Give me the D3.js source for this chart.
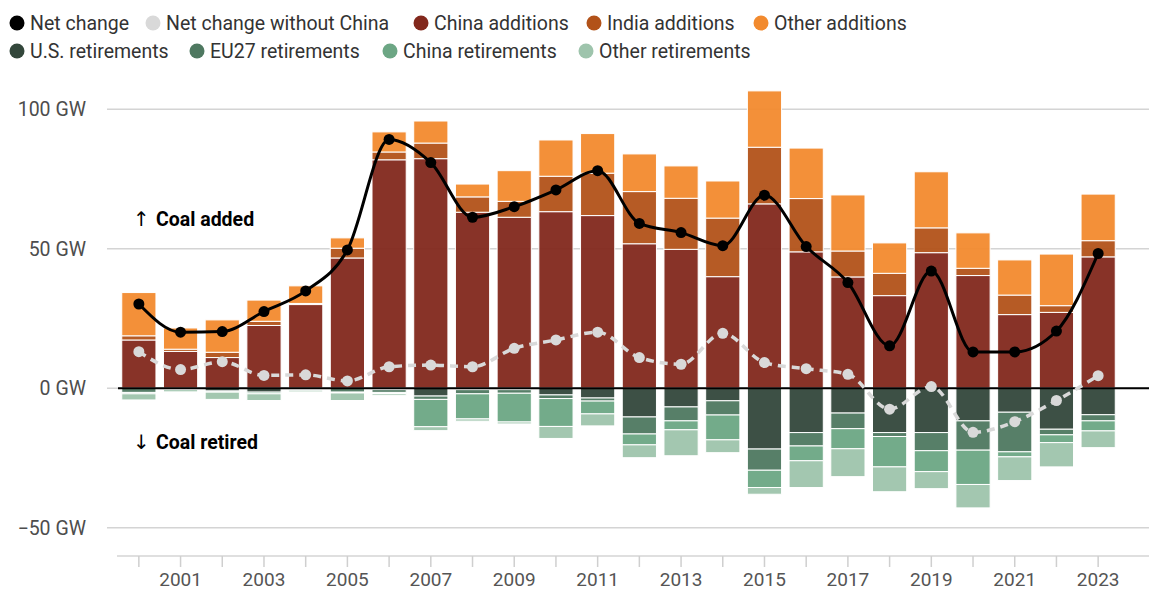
<!DOCTYPE html>
<html>
<head>
<meta charset="utf-8">
<script src="https://cdn.jsdelivr.net/npm/d3@7"></script>
<style>
	body { margin: 0; background: #fff; }
	svg { display: block; font-family: Roboto, "Noto Sans", sans-serif; }
</style>
</head>
<body>
<svg id="chart" width="1149" height="590"></svg>
<script>
var years = [2000, 2001, 2002, 2003, 2004, 2005, 2006, 2007, 2008, 2009, 2010, 2011,
	2012, 2013, 2014, 2015, 2016, 2017, 2018, 2019, 2020, 2021, 2022, 2023];

// GW added
var chinaAdd = [17.3, 13.2, 11.0, 22.5, 30.0, 46.7, 81.9, 82.3, 63.1, 61.3, 63.3, 61.9,
	51.8, 49.8, 40.0, 66.1, 48.9, 39.9, 33.2, 48.6, 40.4, 26.4, 27.2, 47.1];
var indiaAdd = [1.5, 0.8, 1.9, 1.5, 0.4, 3.5, 2.8, 5.6, 5.5, 5.7, 12.7, 15.2,
	18.7, 18.3, 21.0, 20.3, 19.1, 9.3, 8.0, 8.9, 2.6, 7.0, 2.4, 5.8];
var otherAdd = [15.5, 7.6, 11.6, 7.6, 6.3, 3.7, 7.2, 7.9, 4.6, 11.0, 13.0, 14.2,
	13.5, 11.6, 13.3, 20.2, 18.1, 20.1, 10.9, 20.1, 12.7, 12.6, 18.5, 16.7];

// GW retired
var usRet = [0, 0, 1.0, 1.4, 0.2, 0, 0.5, 2.8, 0.5, 0.5, 2.4, 3.5,
	10.3, 6.7, 4.5, 21.8, 15.9, 8.9, 15.9, 15.9, 11.7, 8.6, 14.7, 9.5];
var euRet = [1.5, 0.5, 0, 0, 0.2, 1.4, 1.0, 1.2, 1.5, 1.3, 1.3, 1.1,
	6.1, 5.0, 5.1, 7.6, 4.8, 5.6, 1.4, 6.5, 10.5, 14.2, 2.0, 2.2];
var chinaRet = [0.5, 0, 0.4, 0.6, 0.3, 0.3, 0.4, 9.8, 9.0, 10.3, 10.0, 4.6,
	3.9, 3.2, 8.9, 6.2, 5.3, 7.2, 10.9, 7.5, 12.3, 1.8, 2.8, 3.6];
var otherRet = [2.2, 0.8, 2.6, 2.4, 0.6, 2.7, 0.6, 1.4, 0.8, 0.7, 4.3, 4.3,
	4.6, 9.3, 4.6, 2.4, 9.6, 10.0, 8.9, 6.1, 8.4, 8.5, 8.7, 6.0];

var netChange = [30.2, 20.1, 20.3, 27.5, 34.9, 49.6, 89.2, 80.9, 61.3, 65.1, 71.1, 78.0,
	59.1, 55.8, 51.1, 69.2, 50.8, 37.9, 15.2, 42.0, 13.0, 13.0, 20.5, 48.3];
var netNoChina = [13.1, 6.7, 9.5, 4.6, 4.8, 2.6, 7.7, 8.3, 7.7, 14.3, 17.3, 20.1,
	11.0, 8.6, 19.7, 9.2, 7.0, 5.0, -7.5, 0.6, -15.8, -12.0, -4.4, 4.5];

var yTicks = [-50, 0, 50, 100];
var xLabels = [2001, 2003, 2005, 2007, 2009, 2011, 2013, 2015, 2017, 2019, 2021, 2023];

var series = [
	{ key: 'chinaAdd', name: 'China additions', color: '#82281c', values: chinaAdd, sign: 1 },
	{ key: 'indiaAdd', name: 'India additions', color: '#b25219', values: indiaAdd, sign: 1 },
	{ key: 'otherAdd', name: 'Other additions', color: '#f28a2e', values: otherAdd, sign: 1 },
	{ key: 'usRet', name: 'U.S. retirements', color: '#33473b', values: usRet, sign: -1 },
	{ key: 'euRet', name: 'EU27 retirements', color: '#4e7860', values: euRet, sign: -1 },
	{ key: 'chinaRet', name: 'China retirements', color: '#6ca684', values: chinaRet, sign: -1 },
	{ key: 'otherRet', name: 'Other retirements', color: '#9ec4ac', values: otherRet, sign: -1 }
];

var svg = d3.select('#chart');
var W = 1149;

var x = d3.scaleBand()
	.domain(years)
	.range([118, 1119])
	.paddingInner(0.18)
	.paddingOuter(0.09);

var y = d3.scaleLinear()
	.domain([-50, 100])
	.range([527.7, 109.3]);

// gridlines + y labels
svg.append('g').selectAll('line')
	.data(yTicks)
	.enter()
	.append('line')
	.attr('x1', 107)
	.attr('x2', W)
	.attr('y1', function (d) { return y(d); })
	.attr('y2', function (d) { return y(d); })
	.attr('stroke', '#d4d4d4')
	.attr('stroke-width', 1.5);

svg.append('g').selectAll('text')
	.data(yTicks)
	.enter()
	.append('text')
	.attr('x', 86)
	.attr('y', function (d) { return y(d); })
	.attr('dy', '0.35em')
	.attr('text-anchor', 'end')
	.attr('fill', '#4d4d4d')
	.style('font-size', '19.5px')
	.text(function (d) { return (d < 0 ? '\u2212' + Math.abs(d) : d) + ' GW'; });

// x axis
var xAxis = d3.axisBottom(x)
	.tickSize(11)
	.tickPadding(6)
	.tickFormat(function (d) { return xLabels.indexOf(d) >= 0 ? d : ''; });

var gx = svg.append('g')
	.attr('transform', 'translate(0,556)')
	.call(xAxis);
gx.select('.domain').remove();
gx.insert('line', ':first-child')
	.attr('x1', 117)
	.attr('x2', W)
	.attr('stroke', '#d4d4d4')
	.attr('stroke-width', 1.5);
gx.selectAll('.tick line').attr('stroke', '#cfcfcf').attr('stroke-width', 1.5);
gx.selectAll('.tick text')
	.attr('fill', '#555')
	.style('font-size', '19px')
	.style('font-family', 'Roboto, sans-serif');

// stacked bars
var table = years.map(function (yr, i) {
	var row = { year: yr };
	series.forEach(function (s) { row[s.key] = s.sign * s.values[i]; });
	return row;
});

var stacked = d3.stack()
	.keys(series.map(function (s) { return s.key; }))
	.offset(d3.stackOffsetDiverging)(table);

svg.append('g').selectAll('g')
	.data(stacked)
	.enter()
	.append('g')
	.attr('fill', function (d, i) { return series[i].color; })
	.selectAll('rect')
	.data(function (d) { return d; })
	.enter()
	.append('rect')
	.attr('x', function (d) { return x(d.data.year); })
	.attr('width', x.bandwidth())
	.attr('y', function (d) { return y(Math.max(d[0], d[1])); })
	.attr('height', function (d) { return Math.abs(y(d[0]) - y(d[1])); })
	.attr('fill-opacity', 0.95)
	.attr('stroke', '#fff')
	.attr('stroke-width', 1);

// zero line
svg.append('line')
	.attr('x1', 118)
	.attr('x2', W)
	.attr('y1', y(0))
	.attr('y2', y(0))
	.attr('stroke', '#000')
	.attr('stroke-width', 2);

var cx = function (d, i) { return x(years[i]) + x.bandwidth() / 2; };

var line = d3.line()
	.x(cx)
	.y(function (d) { return y(d); })
	.curve(d3.curveMonotoneX);

// net change without China
svg.append('path')
	.datum(netNoChina)
	.attr('d', line)
	.attr('fill', 'none')
	.attr('stroke', '#d9d9d9')
	.attr('stroke-width', 3.5)
	.attr('stroke-dasharray', '8,6');

svg.append('g').selectAll('circle')
	.data(netNoChina)
	.enter()
	.append('circle')
	.attr('cx', cx)
	.attr('cy', function (d) { return y(d); })
	.attr('r', 5.5)
	.attr('fill', '#d9d9d9');

// net change
svg.append('path')
	.datum(netChange)
	.attr('d', line)
	.attr('fill', 'none')
	.attr('stroke', '#000')
	.attr('stroke-width', 3);

svg.append('g').selectAll('circle')
	.data(netChange)
	.enter()
	.append('circle')
	.attr('cx', cx)
	.attr('cy', function (d) { return y(d); })
	.attr('r', 5.5)
	.attr('fill', '#000');

// annotations: arrow glyph in a font that draws it larger
var notes = [
	{ arrow: '\u2191', label: 'Coal added', y: 226 },
	{ arrow: '\u2193', label: 'Coal retired', y: 449 }
];
var note = svg.append('g').selectAll('g')
	.data(notes)
	.enter()
	.append('g');
note.append('text')
	.attr('x', 133)
	.attr('y', function (d) { return d.y; })
	.style('font-family', '"DejaVu Sans", sans-serif')
	.style('font-size', '20px')
	.text(function (d) { return d.arrow; });
note.append('text')
	.attr('x', 156)
	.attr('y', function (d) { return d.y; })
	.style('font-size', '19.5px')
	.style('font-weight', 'bold')
	.text(function (d) { return d.label; });

// legend
var legendItems = [
	{ name: 'Net change', color: '#000', x: 17, row: 0 },
	{ name: 'Net change without China', color: '#d9d9d9', x: 153, row: 0 },
	{ name: series[0].name, color: series[0].color, x: 421, row: 0 },
	{ name: series[1].name, color: series[1].color, x: 594, row: 0 },
	{ name: series[2].name, color: series[2].color, x: 761, row: 0 },
	{ name: series[3].name, color: series[3].color, x: 17, row: 1 },
	{ name: series[4].name, color: series[4].color, x: 197, row: 1 },
	{ name: series[5].name, color: series[5].color, x: 390, row: 1 },
	{ name: series[6].name, color: series[6].color, x: 586, row: 1 }
];

var legend = svg.append('g').selectAll('g')
	.data(legendItems)
	.enter()
	.append('g')
	.attr('transform', function (d) { return 'translate(' + d.x + ',' + (23 + d.row * 28) + ')'; });

legend.append('circle')
	.attr('r', 7.5)
	.attr('fill', function (d) { return d.color; });

legend.append('text')
	.attr('x', 13)
	.attr('dy', '0.35em')
	.attr('fill', '#333')
	.style('font-size', '19.5px')
	.text(function (d) { return d.name; });
</script>
</body>
</html>
